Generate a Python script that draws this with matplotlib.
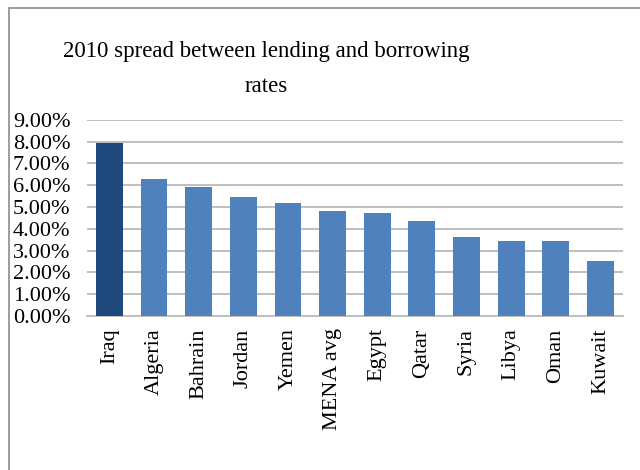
import matplotlib.pyplot as plt
import matplotlib.patches as patches
from matplotlib.ticker import FuncFormatter

# Spread between lending and borrowing rates, 2010 (percent)
paises = ['Iraq', 'Algeria', 'Bahrain', 'Jordan', 'Yemen', 'MENA avg',
          'Egypt', 'Qatar', 'Syria', 'Libya', 'Oman', 'Kuwait']
spread = [7.95, 6.28, 5.92, 5.46, 5.18, 4.81, 4.72, 4.35, 3.61, 3.43, 3.43, 2.52]

plt.rcParams['font.family'] = ['Liberation Serif', 'DejaVu Serif']

fig = plt.figure(figsize=(6.4, 4.7), dpi=100)
ax = fig.add_axes([0.136, 0.328, 0.837, 0.417])

# Iraq resaltado en azul oscuro, el resto en azul claro
colores = ['#1F497D'] + ['#4F81BD'] * (len(paises) - 1)
ax.bar(range(len(paises)), [v / 100 for v in spread], width=0.6, color=colores, zorder=3)

ax.set_xlim(-0.5, len(paises) - 0.5)
ax.set_ylim(0, 0.09)
ax.set_yticks([i / 100 for i in range(10)])
ax.yaxis.set_major_formatter(FuncFormatter(lambda v, p: f'{v * 100:.2f}%'))
ax.set_xticks(range(len(paises)))
ax.set_xticklabels(paises, rotation=90)
ax.tick_params(axis='both', length=0, labelsize=16)
ax.tick_params(axis='y', pad=12)
ax.tick_params(axis='x', pad=9)

ax.grid(axis='y', color='#BFBFBF', linewidth=1.4, zorder=0)
for lado in ['top', 'right', 'left']:
    ax.spines[lado].set_visible(False)
ax.spines['bottom'].set_color('#BFBFBF')
ax.spines['bottom'].set_linewidth(1.4)

fig.text(0.416, 0.879, '2010 spread between lending and borrowing',
         ha='center', va='baseline', fontsize=16.5)
fig.text(0.416, 0.804, 'rates', ha='center', va='baseline', fontsize=16.5)

# Marco del gráfico
marco = patches.Rectangle((9 / 640, -0.2), 1.2, 1.2 - 8 / 470,
                          transform=fig.transFigure, fill=False,
                          edgecolor='#8C8C8C', linewidth=1.2)
fig.add_artist(marco)

fig.savefig('out.png', dpi=100)
